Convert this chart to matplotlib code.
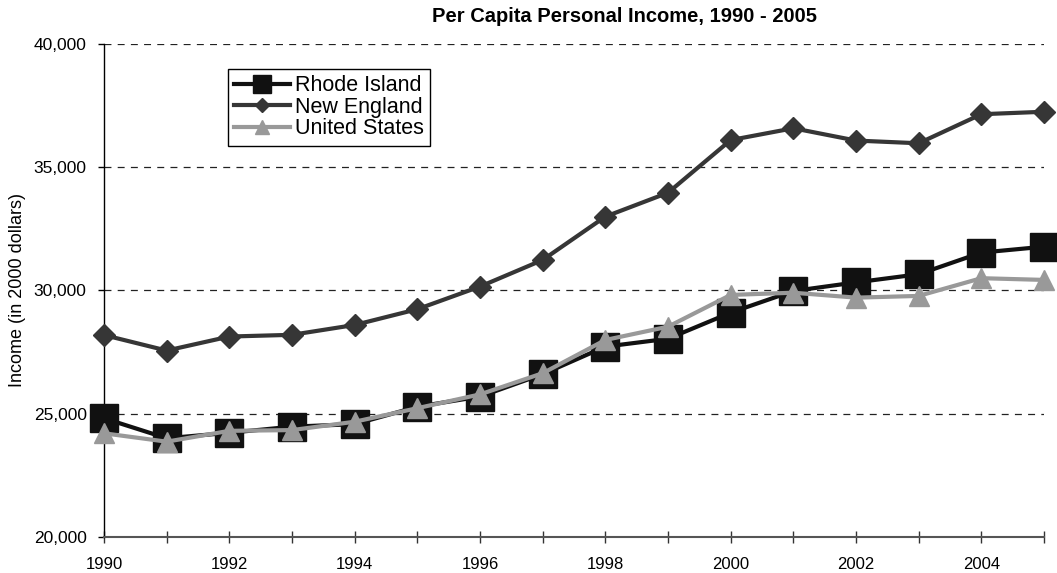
import matplotlib
matplotlib.use("Agg")
import matplotlib.pyplot as plt

plt.rcParams['font.family'] = ['Liberation Sans', 'DejaVu Sans']
plt.rcParams['lines.scale_dashes'] = False

years = list(range(1990, 2006))
rhode_island = [24810, 24000, 24220, 24470, 24570, 25280, 25690, 26600, 27720, 28040,
                29100, 29980, 30330, 30660, 31540, 31780]
new_england = [28190, 27560, 28130, 28200, 28600, 29240, 30160, 31240, 33000, 33970,
               36110, 36590, 36090, 35980, 37160, 37260]
united_states = [24200, 23860, 24300, 24330, 24670, 25220, 25780, 26640, 27990, 28530,
                 29820, 29910, 29710, 29780, 30500, 30430]
series_labels = ["Rhode Island", "New England", "United States"]
title = "Per Capita Personal Income, 1990 - 2005"
ylabel = "Income (in 2000 dollars)"
yticks = [20000, 25000, 30000, 35000, 40000]

fig = plt.figure(figsize=(10.57, 5.73), dpi=100)
ax = fig.add_axes([104/1057, 1-536.7/573, (1044-104)/1057, (536.7-44.3)/573])

ax.plot(years, new_england, color='#363636', lw=3, marker='D', ms=10.7,
        label=series_labels[1], clip_on=False, zorder=3)
ax.plot(years, united_states, color='#999999', lw=3, marker='^', ms=14,
        label=series_labels[2], clip_on=False, zorder=5)
ax.plot(years, rhode_island, color='#111111', lw=3, marker='s', ms=19.5,
        label=series_labels[0], clip_on=False, zorder=4)

ax.set_xlim(1990, 2005)
ax.set_ylim(20000, 40000)
ax.set_yticks(yticks)
ax.set_yticklabels([f"{v:,}" for v in yticks])
ax.set_xticks(years)
ax.set_xticklabels([str(y) if y % 2 == 0 else '' for y in years])

for v in yticks[1:]:
    ax.axhline(v, color='#222222', lw=0.9, linestyle=(0, (5, 4.5)), zorder=1)

for s in ['top', 'right']:
    ax.spines[s].set_visible(False)
ax.spines['left'].set_color('black')
ax.spines['left'].set_linewidth(1.0)
ax.spines['bottom'].set_color('#555555')
ax.spines['bottom'].set_linewidth(1.5)

ax.tick_params(axis='y', direction='out', length=4.5, width=1, pad=8, labelsize=12.5)
ax.tick_params(axis='x', direction='inout', length=9, width=1, color='#333333',
               pad=10, labelsize=12)

h, l = ax.get_legend_handles_labels()
order = [2, 0, 1]
leg = ax.legend([h[i] for i in order], [l[i] for i in order],
                loc='upper left', bbox_to_anchor=((228-104)/940, 1-(69-44.3)/492.4),
                fontsize=15.5, markerscale=1.0, labelspacing=0.02, handlelength=2.6,
                handletextpad=0.2, borderpad=0.3, fancybox=False, framealpha=1,
                edgecolor='black', borderaxespad=0)
leg.get_frame().set_linewidth(1.0)
for lh in leg.get_lines():
    lh.set_markersize(lh.get_markersize() * 0.7)

fig.text(625/1057, 1-17/573, title, ha='center', va='center', fontsize=14.5,
         fontweight='bold')
fig.text(18/1057, 1-290/573, ylabel, rotation=90, ha='center', va='center',
         fontsize=13)

fig.savefig('out.png', dpi=100)
